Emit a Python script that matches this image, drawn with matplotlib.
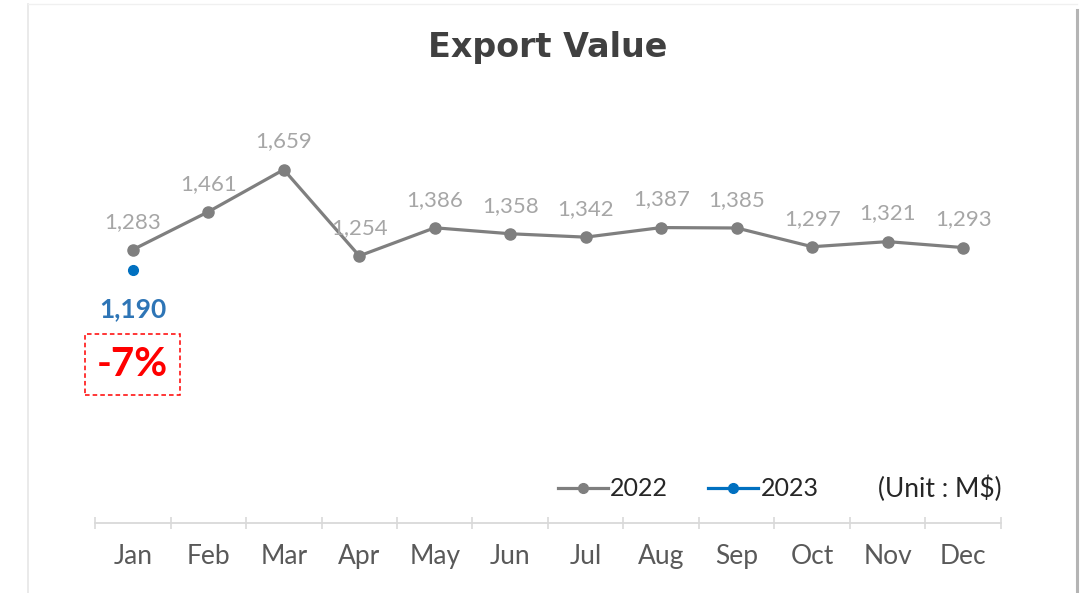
import matplotlib.pyplot as plt
from matplotlib.lines import Line2D

# Monthly export values (M$)
months = ["Jan", "Feb", "Mar", "Apr", "May", "Jun", "Jul", "Aug", "Sep", "Oct", "Nov", "Dec"]
values_2022 = [1283, 1461, 1659, 1254, 1386, 1358, 1342, 1387, 1385, 1297, 1321, 1293]
values_2023 = [1190]
change_label = "-7%"

GREY = "#7f7f7f"
BLUE = "#0070c0"
LABEL_FONT = "Lato"

fig = plt.figure(figsize=(10.86, 5.93), dpi=100)
fig.patch.set_facecolor("white")

# Chart frame lines
fig.add_artist(Line2D([28 / 1086, 28 / 1086], [0, 1 - 4 / 593], color="#e6e6e6", lw=1.2))
fig.add_artist(Line2D([1077 / 1086, 1077 / 1086], [0, 1 - 10 / 593], color="#b4b4b4", lw=2.2))
fig.add_artist(Line2D([28 / 1086, 1077 / 1086], [1 - 4 / 593, 1 - 4 / 593], color="#f0f0f0", lw=1))

ax = fig.add_axes([95 / 1086, 1 - 523 / 593, 906 / 1086, 426 / 593])
x = list(range(len(months)))

ax.plot(x, values_2022, color=GREY, lw=2.3, marker="o", markersize=8)
ax.plot(x[:len(values_2023)], values_2023, color=BLUE, lw=2.3, marker="o", markersize=7,
        linestyle="none")

for xi, v in zip(x, values_2022):
    ax.annotate(f"{v:,}", (xi, v), xytext=(0, 13), textcoords="offset points",
                ha="center", va="bottom", color="#a6a6a6", fontsize=16, family=LABEL_FONT)

for xi, v in zip(x, values_2023):
    ax.annotate(f"{v:,}", (xi, v), xytext=(0, -20), textcoords="offset points",
                ha="center", va="top", color="#2e75b6", fontsize=19, fontweight="bold",
                family=LABEL_FONT)

# Year-on-year change box under January
ax.annotate(change_label, (0, values_2023[0]), xytext=(0, -55), textcoords="offset points",
            ha="center", va="top", color="#ff0000", fontsize=29, fontweight="bold",
            family=LABEL_FONT,
            bbox=dict(boxstyle="square,pad=0.3", fc="white", ec="#ff0000", lw=1.1,
                      linestyle=(0, (3, 2))))

ax.set_xlim(-0.5, len(months) - 0.5)
ax.set_ylim(0, 2000)
ax.set_yticks([])
for side in ["top", "right", "left"]:
    ax.spines[side].set_visible(False)
ax.spines["bottom"].set_color("#d9d9d9")
ax.spines["bottom"].set_linewidth(1.3)

ax.set_xticks([i - 0.5 for i in range(len(months) + 1)], minor=False)
ax.set_xticklabels([])
ax.tick_params(axis="x", which="major", direction="inout", length=8, color="#d9d9d9", width=1.2)
ax.set_xticks(x, minor=True)
ax.set_xticklabels(months, minor=True)
ax.tick_params(axis="x", which="minor", length=0, pad=15, labelsize=19, labelcolor="#595959")
for lbl in ax.get_xticklabels(minor=True):
    lbl.set_family(LABEL_FONT)

fig.text(548 / 1086, 1 - 47 / 593, "Export Value", ha="center", va="center",
         fontsize=24, fontweight="bold", color="#404040", family="DejaVu Sans")

handles = [
    Line2D([], [], color=GREY, lw=2.3, marker="o", markersize=7),
    Line2D([], [], color=BLUE, lw=2.3, marker="o", markersize=7),
]
leg = ax.legend(handles, ["2022", "2023"], loc="center",
                bbox_to_anchor=(688 / 1086, 1 - 489 / 593),
                bbox_transform=fig.transFigure, ncol=2, frameon=False,
                prop={"family": LABEL_FONT, "size": 18}, handlelength=2.0,
                handletextpad=0.1, columnspacing=1.6)
for t in leg.get_texts():
    t.set_color("#262626")

fig.text(1002 / 1086, 1 - 489 / 593, "(Unit : M$)", ha="right", va="center",
         fontsize=19, color="#262626", family=LABEL_FONT)

fig.savefig("out.png", dpi=100, facecolor="white")
